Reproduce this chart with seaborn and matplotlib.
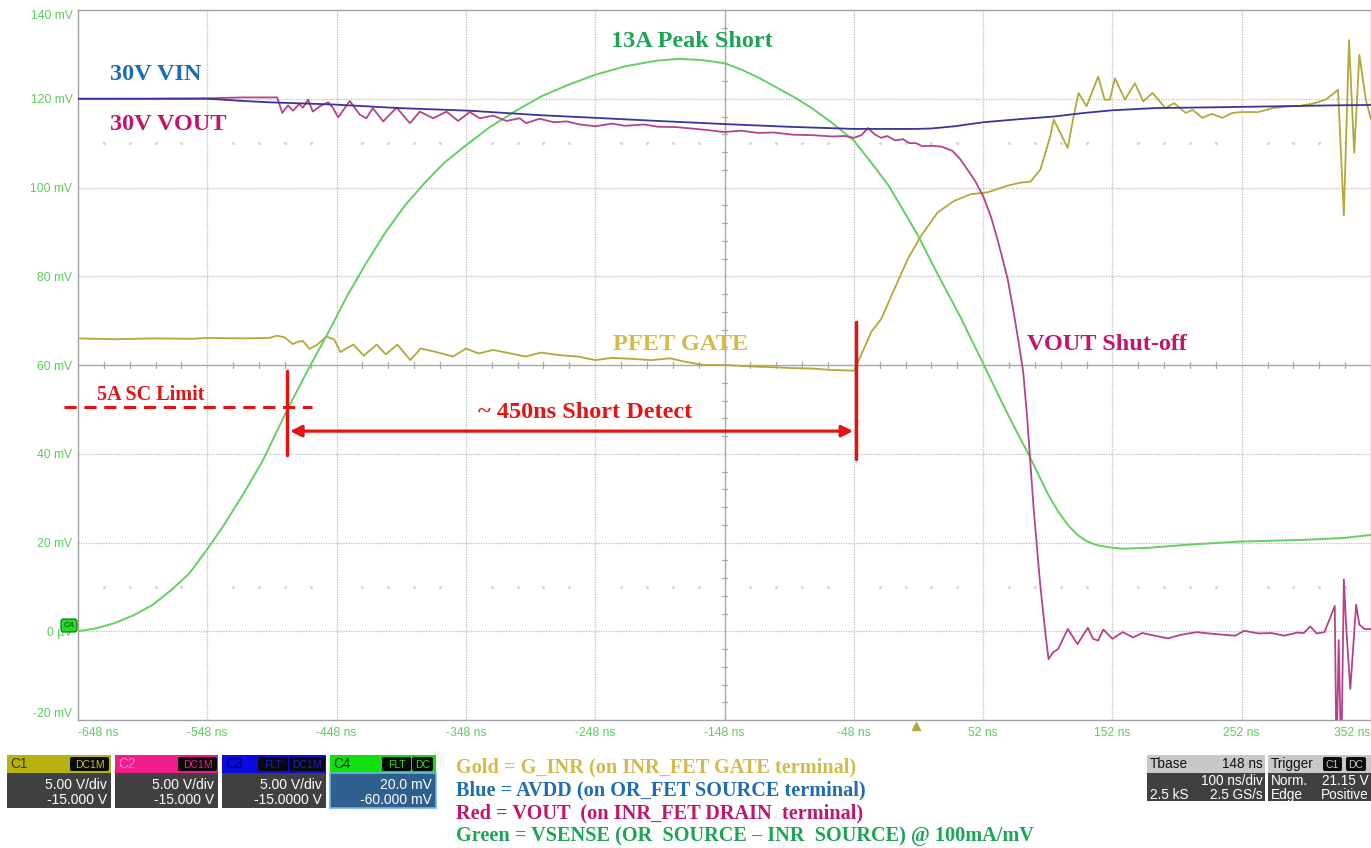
import numpy as np
import pandas as pd
import matplotlib
matplotlib.use("Agg")
import matplotlib.pyplot as plt
import seaborn as sns
from matplotlib.patches import Rectangle, FancyBboxPatch

# ---------------- data (time in ns, value in mV) ----------------
gold_t = [-648, -620, -590, -560, -548, -520, -500, -494, -488, -482, -477, -474, -469, -463,
          -456, -450, -445, -440, -435, -427, -417, -410, -401, -391, -383, -372, -358, -348,
          -338, -327, -315, -302, -290, -275, -261, -248, -235, -220, -205, -190, -178, -164,
          -148, -135, -122, -110, -95, -80, -67, -55, -48, -44.7, -34.4, -26.7, -16.5, -6.2,
          4, 16.9, 29.7, 42.5, 55.3, 70.7, 81, 88.7, 96.4, 104, 106.6, 111.7, 117.4, 122,
          125.8, 132, 141, 146, 150, 154, 161.7, 169.4, 175.8, 183, 193, 199.7, 208.7, 214,
          221.6, 229, 237, 244.8, 252, 265, 276, 289, 297, 307, 317, 326.5, 331, 335, 339,
          343, 348, 352]
gold_v = [66, 65.8, 66, 65.9, 66.1, 66, 66.1, 66.6, 66.2, 64.7, 65.3, 65.4, 63.6, 64.6,
          66.4, 65.8, 62.9, 63.8, 64.6, 62.1, 64.6, 62.4, 64.6, 61.1, 63.7, 63, 61.9, 63.7,
          62.6, 63.4, 62.7, 61.9, 62.8, 62.2, 61.9, 61.1, 61.6, 61.4, 61.1, 61.5, 60.7, 60,
          60, 59.8, 59.6, 59.5, 59.3, 59.2, 58.9, 58.8, 58.7, 60.7, 67.5, 70.4, 77.2, 83.9,
          89.1, 94.4, 97, 98.5, 98.9, 100.4, 101.1, 101.3, 104.1, 111.6, 115.3, 112.3, 108.9, 116,
          121.3, 118.3, 125, 119.8, 119.8, 124.6, 119.8, 123.5, 119.4, 121.3, 117.9, 119, 116.8, 117.5,
          115.7, 116.6, 115.7, 116.8, 117, 117, 117.9, 118.3, 118.4, 118.9, 119.8, 122, 93.7, 133.2, 107.8,
          129.9, 119.8, 115.3]

blue_t = [-648, -600, -548, -520, -500, -450, -400, -345, -291, -248, -200, -148, -100, -48,
          0, 12, 30, 52, 80, 107, 130, 152, 185, 237, 280, 320, 352]
blue_v = [120, 120, 120, 119.5, 119.2, 118.7, 117.9, 117.3, 116.3, 115.7, 115, 114.3, 113.7, 113.2,
          113.2, 113.3, 113.8, 114.7, 115.4, 116, 116.8, 117.4, 117.9, 118.1, 118.3, 118.5, 118.6]

red_t = [-648, -600, -548, -520, -494, -490, -485.6, -481.7, -477, -474, -470, -466.4, -461,
         -454.5, -450.7, -446.8, -437.8, -430, -425, -420, -412, -401.6, -391.3, -383.6, -373.3,
         -363, -354, -345, -337.3, -327, -316.7, -306.4, -301.3, -291, -280, -270, -260, -248,
         -235, -225, -210, -200, -185, -170, -160, -148, -135, -122, -110, -95, -80, -65, -55,
         -48, -42, -37, -32, -27, -22, -16, -10, -5, 0, 5, 12, 20, 28, 34, 40, 46, 52, 58, 63,
         67, 71, 75, 79, 83, 86, 91, 96, 100, 102.6, 106, 110, 117.5, 125, 133, 137, 141, 145,
         152, 160, 168, 175, 183, 195, 205, 217, 230, 247, 254, 265, 275, 285, 295, 300, 305,
         310, 316, 324, 325.3, 327, 329, 331, 333, 336, 340.5, 343, 347, 352]
red_v = [120, 120, 120.1, 120.3, 120.3, 116.8, 118.5, 117.3, 118.8, 118, 119.8, 117.1, 118.3,
         119.2, 117.9, 115.8, 119.5, 116.4, 115.6, 117.9, 114.9, 118, 114.5, 117.1, 115.6,
         117.1, 115, 117, 115.6, 116.2, 115, 115.6, 114.5, 115.5, 114.7, 114.9, 114.2, 113.8,
         114.4, 113.9, 114.2, 113.7, 113.6, 113.2, 112.9, 112.5, 112.8, 112.3, 112.4, 111.9, 111.8, 111.5, 111.6,
         111.2, 111.8, 113.4, 112, 111.2, 111.6, 110.6, 110.9, 110, 110, 109.3, 109.4, 109.2, 108.3, 106.5, 104, 101.4, 98.1, 93.5, 88.4,
         84, 79.4, 73, 66, 58.5, 48.4, 28, 11, 0, -6.3, -4.8, -4, 0.5, -2.9, 0.8, -1.7, -2.1, 0.4,
         -1.7, -0.2, -1.4, -0.4, -0.9, -1.6, -0.8, -0.2, -0.6, -1, 0.1, -0.5, -0.4, -1, -0.3, -0.4, 1.1,
         -0.5, -0.2, 5.7, -30, -2, -30, 11.7, 0, -13, 6, 1.5, 0.5, 0.5]

green_t = [-648, -635, -620, -605, -590, -575, -562, -548, -535, -520, -505, -486, -470, -455,
           -440, -425, -410, -395, -380, -365, -348, -330, -311, -290, -270, -248, -225, -200,
           -183, -165, -148, -135, -122, -110, -95, -81, -65, -48, -35, -21, -10, 2, 15, 25, 35,
           45, 52, 62, 72, 80, 87, 95, 102, 110, 118, 125, 132, 140, 150, 160, 180, 210, 250,
           300, 330, 352]
green_v = [0, 0.6, 1.8, 3.6, 6, 9.5, 13, 18.5, 24, 31, 38.5, 50, 59, 67,
           75.5, 83, 90, 96, 101, 105.5, 109.5, 113.5, 117, 120.5, 123, 125.4, 127.3, 128.6,
           129, 128.7, 128, 126.6, 124.8, 122.9, 120.5, 118, 114.6, 110.6, 105.8, 100.4, 95, 89, 81.5, 76, 70.5,
           64.5, 60.4, 54.3, 48.4, 43.8, 40, 35.2, 31, 27, 23.8, 21.7, 20.3, 19.4, 18.9, 18.6, 18.8, 19.5, 20.2,
           20.6, 21, 21.7]

x_ticks = [-648, -548, -448, -348, -248, -148, -48, 52, 152, 252, 352]
x_tick_labels = ["-648 ns", "-548 ns", "-448 ns", "-348 ns", "-248 ns", "-148 ns", "-48 ns",
                 "52 ns", "152 ns", "252 ns", "352 ns"]
y_ticks = [-20, 0, 20, 40, 60, 80, 100, 120, 140]
y_tick_labels = ["-20 mV", "0 \u00b5V", "20 mV", "40 mV", "60 mV", "80 mV", "100 mV", "120 mV", "140 mV"]

legend_lines = ["Gold = G_INR (on INR_FET GATE terminal)",
                "Blue = AVDD (on OR_FET SOURCE terminal)",
                "Red = VOUT  (on INR_FET DRAIN  terminal)",
                "Green = VSENSE (OR  SOURCE \u2013 INR  SOURCE) @ 100mA/mV"]

# ---------------- styling ----------------
sns.set_theme(style="white")
plt.rcParams['font.family'] = ['Liberation Sans', 'DejaVu Sans']

C_GOLD = "#b3a93a"
C_BLUE = "#36369c"
C_RED = "#b5438a"
C_GREEN = "#63d063"
T_GOLD = "#d2bb4c"
T_BLUE = "#1f6db1"
T_RED = "#c0166e"
T_GREEN = "#1ea456"
ANN = "#e41414"
TICK_C = "#5ccc5c"
SERIF = ['Liberation Serif', 'DejaVu Serif']

W, H = 1371, 848
fig = plt.figure(figsize=(W / 100, H / 100), dpi=100)
fig.patch.set_facecolor("white")
ax = fig.add_axes([78 / W, 1 - 720 / H, 1293 / W, 710 / H])
ax.set_facecolor("white")
ax.set_xlim(-648, 352)
ax.set_ylim(-20, 140)

# graticule
for xv in x_ticks[1:-1]:
    if xv == -148:
        ax.axvline(xv, color="#a8a8a8", lw=1.0, zorder=1)
    else:
        ax.axvline(xv, color="#bdbdbd", lw=0.9, ls=(0, (1, 1)), zorder=1)
for yv in y_ticks[1:-1]:
    if yv == 60:
        ax.axhline(yv, color="#a8a8a8", lw=1.0, zorder=1)
    else:
        ax.axhline(yv, color="#bdbdbd", lw=0.9, ls=(0, (1, 1)), zorder=1)
# centre-line minor ticks and faint marker dots
for k in range(1, 50):
    tx = -648 + 20 * k
    if k % 5:
        ax.plot([tx, tx], [59.3, 60.7], color="#a8a8a8", lw=0.9, zorder=1)
        ax.plot([tx], [110], marker='s', ms=1.0, color="#d4d4d4", zorder=1)
        ax.plot([tx], [10], marker='s', ms=1.0, color="#d4d4d4", zorder=1)
for k in range(1, 40):
    vy = -20 + 4 * k
    if k % 5:
        ax.plot([-150.3, -145.7], [vy, vy], color="#a8a8a8", lw=0.9, zorder=1)

# traces
sns.lineplot(x=gold_t, y=gold_v, ax=ax, color=C_GOLD, lw=1.3, estimator=None, sort=False, zorder=3)
sns.lineplot(x=green_t, y=green_v, ax=ax, color=C_GREEN, lw=1.4, estimator=None, sort=False, zorder=3)
sns.lineplot(x=red_t, y=red_v, ax=ax, color=C_RED, lw=1.3, estimator=None, sort=False, zorder=4)
sns.lineplot(x=blue_t, y=blue_v, ax=ax, color=C_BLUE, lw=1.3, estimator=None, sort=False, zorder=5)

# ticks
ax.set_xticks(x_ticks)
ax.set_xticklabels(x_tick_labels)
ax.set_yticks(y_ticks)
ax.set_yticklabels(y_tick_labels)
ax.tick_params(axis='both', length=0, labelsize=8.7, labelcolor=TICK_C)
ax.tick_params(axis='x', pad=5)
ax.tick_params(axis='y', pad=4)
xl = ax.get_xticklabels()
xl[0].set_horizontalalignment('left')
xl[-1].set_horizontalalignment('right')
yl = ax.get_yticklabels()
yl[-1].set_verticalalignment('top')
yl[0].set_verticalalignment('bottom')
ax.set_xlabel("")
ax.set_ylabel("")
for s in ax.spines.values():
    s.set_color("#a0a0a0")
    s.set_linewidth(1.0)
ax.grid(False)

# annotations
ax.text(-588, 125.4, "30V VIN", color=T_BLUE, fontsize=17.5, fontweight='bold', family=SERIF,
        ha='center', va='center', zorder=6)
ax.text(-578, 114.3, "30V VOUT", color=T_RED, fontsize=17.5, fontweight='bold', family=SERIF,
        ha='center', va='center', zorder=6)
ax.text(-173, 133, "13A Peak Short", color=T_GREEN, fontsize=17.5, fontweight='bold', family=SERIF,
        ha='center', va='center', zorder=6)
ax.text(-182, 64.7, "PFET GATE", color=T_GOLD, fontsize=17.5, fontweight='bold', family=SERIF,
        ha='center', va='center', zorder=6)
ax.text(148, 64.7, "VOUT Shut-off", color=T_RED, fontsize=17.5, fontweight='bold', family=SERIF,
        ha='center', va='center', zorder=6)
ax.text(-592, 53.3, "5A SC Limit", color=ANN, fontsize=14.5, fontweight='bold', family=SERIF,
        ha='center', va='center', zorder=6)
ax.text(-256, 49.3, "~ 450ns Short Detect", color=ANN, fontsize=17.5, fontweight='bold', family=SERIF,
        ha='center', va='center', zorder=6)
ax.plot([-659, -467], [50.5, 50.5], color=ANN, lw=2.2, ls=(0, (4, 2.5)), clip_on=False, zorder=6)
ax.plot([-486, -486], [39.7, 58.6], color=ANN, lw=2.5, zorder=6)
ax.plot([-46.5, -46.5], [38.8, 69.7], color=ANN, lw=2.5, zorder=6)
ax.annotate("", xy=(-484, 45.1), xytext=(-48.5, 45.1),
            arrowprops=dict(arrowstyle='<|-|>', color=ANN, lw=2.3, mutation_scale=17,
                            shrinkA=0, shrinkB=0), zorder=6)
ax.plot([0], [-21.4], marker='^', ms=6, color=C_GOLD, clip_on=False, zorder=6)

# ---------------- overlay (pixel coordinates) ----------------
ov = fig.add_axes([0, 0, 1, 1], zorder=10)
ov.set_xlim(0, W)
ov.set_ylim(H, 0)
ov.axis('off')
ov.patch.set_alpha(0)

# C4 ground marker
ov.add_patch(FancyBboxPatch((61, 619), 16, 13, boxstyle="round,pad=0,rounding_size=2.5",
                            fc="#22dd22", ec="#0a6a0a", lw=0.8))
ov.text(69, 625.5, "C4", fontsize=6, color="#0a3a0a", ha='center', va='center')


def tag(x0, x1, y0, y1, txt, col):
    ov.add_patch(FancyBboxPatch((x0, y0), x1 - x0, y1 - y0, boxstyle="round,pad=0,rounding_size=2",
                                fc="#0a0a0a", ec="none"))
    ov.text((x0 + x1) / 2, (y0 + y1) / 2 + 0.5, txt, fontsize=7.5, color=col, ha='center', va='center')


def chan(x0, x1, hcol, name, namecol, tags, l1, l2, bodycol="#404040", edge=None):
    ov.add_patch(Rectangle((x0, 755), x1 - x0, 18, fc=hcol, ec="none"))
    ov.add_patch(Rectangle((x0, 773), x1 - x0, 35, fc=bodycol, ec=edge if edge else "none",
                           lw=1.2 if edge else 0))
    ov.text(x0 + 3, 764, name, fontsize=9.8, color=namecol, ha='left', va='center')
    for (a, b, t, c) in tags:
        tag(a, b, 757, 771, t, c)
    ov.text(x1 - 4, 785, l1, fontsize=10, color="white", ha='right', va='center')
    ov.text(x1 - 4, 800, l2, fontsize=10, color="white", ha='right', va='center')


chan(7, 111, "#b8b210", "C1", "#3a3600", [(70, 109, "DC1M", "#c8c020")], "5.00 V/div", "-15.000 V")
chan(115, 218, "#f01c8c", "C2", "#ff80c0", [(178, 217, "DC1M", "#f01c8c")], "5.00 V/div", "-15.000 V")
chan(222, 326, "#0a0ae0", "C3", "#000060", [(258, 288, "FLT", "#2020c0"), (289, 325, "DC1M", "#2020c0")],
     "5.00 V/div", "-15.0000 V")
chan(330, 436, "#10e010", "C4", "#063006", [(382, 411, "FLT", "#20e020"), (412, 433, "DC", "#20e020")],
     "20.0 mV", "-60.000 mV", bodycol="#2f5f8f", edge="#6fb4e6")

# legend text
for i, (txt, col) in enumerate(zip(legend_lines, [T_GOLD, T_BLUE, T_RED, T_GREEN])):
    ov.text(456, 767 + 23 * i, txt, color=col, fontsize=14.6, fontweight='bold', family=SERIF,
            ha='left', va='center')

# timebase / trigger boxes
ov.add_patch(Rectangle((1147, 755), 118, 18, fc="#c8c8c8", ec="none"))
ov.add_patch(Rectangle((1147, 773), 118, 28, fc="#404040", ec="none"))
ov.text(1150, 764, "Tbase", fontsize=9.8, color="#111111", ha='left', va='center')
ov.text(1263, 764, "148 ns", fontsize=9.8, color="#111111", ha='right', va='center')
ov.text(1263, 781, "100 ns/div", fontsize=9.8, color="white", ha='right', va='center')
ov.text(1150, 795, "2.5 kS", fontsize=9.8, color="white", ha='left', va='center')
ov.text(1263, 795, "2.5 GS/s", fontsize=9.8, color="white", ha='right', va='center')

ov.add_patch(Rectangle((1268, 755), 103, 18, fc="#c8c8c8", ec="none"))
ov.add_patch(Rectangle((1268, 773), 103, 28, fc="#404040", ec="none"))
ov.text(1271, 764, "Trigger", fontsize=9.8, color="#111111", ha='left', va='center')
tag(1323, 1342, 757, 771, "C1", "#c8c8c8")
tag(1346, 1366, 757, 771, "DC", "#c8c8c8")
ov.text(1271, 781, "Norm.", fontsize=9.8, color="white", ha='left', va='center')
ov.text(1369, 781, "21.15 V", fontsize=9.8, color="white", ha='right', va='center')
ov.text(1271, 795, "Edge", fontsize=9.8, color="white", ha='left', va='center')
ov.text(1369, 795, "Positive", fontsize=9.8, color="white", ha='right', va='center')

fig.savefig("out.png", dpi=100, facecolor="white")
